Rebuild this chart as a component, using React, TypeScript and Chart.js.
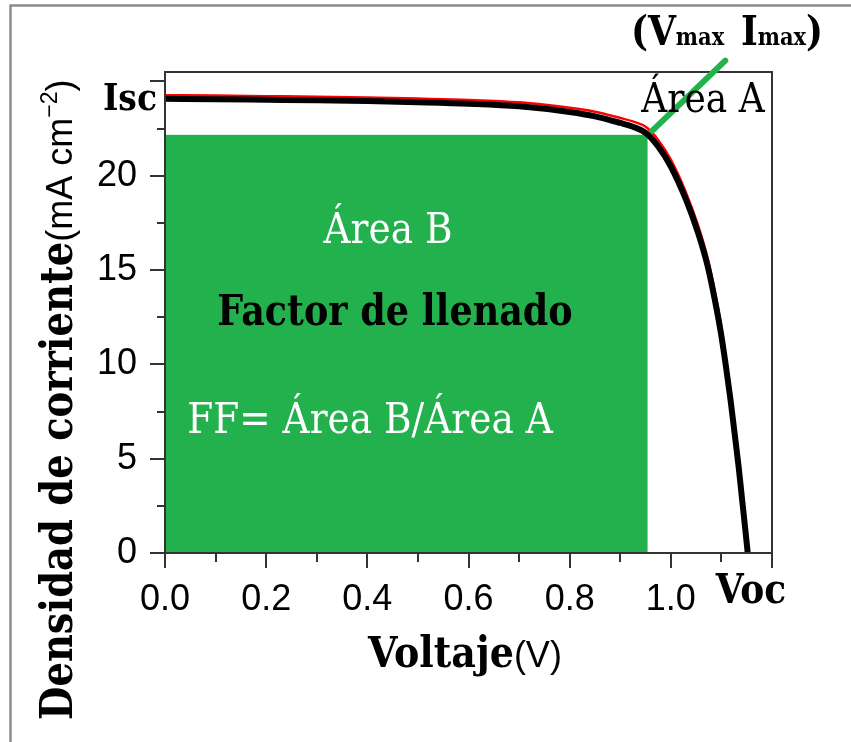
import React, { useEffect, useRef } from 'react';
import { Chart, registerables } from 'chart.js';

Chart.register(...registerables);

// ---- data ----
const voltage = [0, 0.1, 0.2, 0.3, 0.4, 0.5, 0.6, 0.7, 0.8, 0.85, 0.9, 0.925, 0.951, 0.975, 1.0, 1.03, 1.054, 1.073, 1.087, 1.099, 1.109, 1.118, 1.126, 1.134, 1.141, 1.148, 1.152];
const currentBlack = [24.08, 24.06, 24.03, 24.0, 23.96, 23.9, 23.82, 23.68, 23.38, 23.15, 22.8, 22.6, 22.26, 21.55, 20.49, 18.73, 16.96, 15.19, 13.42, 11.66, 9.88, 8.12, 6.35, 4.58, 2.81, 1.05, 0];
const currentRed = [24.27, 24.25, 24.22, 24.19, 24.15, 24.09, 24.02, 23.89, 23.6, 23.39, 23.06, 22.88, 22.58, 21.9, 20.85, 19.1, 17.35, 15.6, 13.85, 12.1, 10.3, 8.5, 6.7, 4.9, 3.1, 1.3, 0];
const maxPowerPoint = [0.954, 22.17]; // [Vmax, Imax]
const pointerLine = [[0.9635, 22.39], [1.1076, 26.1]];
const xMajorTicks = [0, 0.2, 0.4, 0.6, 0.8, 1.0, 1.2];
const xMinorTicks = [0.1, 0.3, 0.5, 0.7, 0.9, 1.1];
const yMajorTicks = [0, 5, 10, 15, 20, 25];
const yMinorTicks = [2.5, 7.5, 12.5, 17.5, 22.5];
const xHiddenLabels = [1.2];
const yHiddenLabels = [25];

const GREEN = '#22b14c';
const AXIS = '#333333';
const SERIF = '"DejaVu Serif", serif';
const SANS = '"Liberation Sans", Arial, sans-serif';

type Run = { text: string; font: string; color?: string; dy?: number; sy?: number };

function drawRuns(ctx: CanvasRenderingContext2D, runs: Run[], x: number, y: number, align: 'left' | 'center' | 'right', rotate = 0) {
  ctx.save();
  ctx.translate(x, y);
  if (rotate) ctx.rotate(rotate);
  const widths = runs.map((r) => {
    ctx.font = r.font;
    return ctx.measureText(r.text).width;
  });
  const total = widths.reduce((a, b) => a + b, 0);
  let cx = align === 'center' ? -total / 2 : align === 'right' ? -total : 0;
  ctx.textAlign = 'left';
  ctx.textBaseline = 'alphabetic';
  runs.forEach((r, i) => {
    ctx.save();
    ctx.font = r.font;
    ctx.fillStyle = r.color || '#000';
    ctx.translate(cx, r.dy || 0);
    ctx.scale(1, r.sy ?? 1.15);
    ctx.fillText(r.text, 0, 0);
    ctx.restore();
    cx += widths[i];
  });
  ctx.restore();
}

const decorPlugin = {
  id: 'decor',
  beforeDatasetsDraw(chart: any) {
    const { ctx, scales } = chart;
    const x = scales.x;
    const y = scales.y;
    const x0 = x.getPixelForValue(0);
    const x1 = x.getPixelForValue(maxPowerPoint[0]);
    const y0 = y.getPixelForValue(0);
    const y1 = y.getPixelForValue(maxPowerPoint[1]);
    ctx.save();
    ctx.fillStyle = GREEN;
    ctx.fillRect(x0, y1, x1 - x0, y0 - y1);
    ctx.restore();
  },
  afterDatasetsDraw(chart: any) {
    const { ctx, scales, chartArea } = chart;
    const x = scales.x;
    const y = scales.y;
    ctx.save();
    // plot box
    ctx.strokeStyle = AXIS;
    ctx.lineWidth = 2;
    ctx.strokeRect(chartArea.left, chartArea.top, chartArea.right - chartArea.left, chartArea.bottom - chartArea.top);
    // minor ticks
    ctx.beginPath();
    xMinorTicks.forEach((v) => {
      const px = Math.round(x.getPixelForValue(v));
      ctx.moveTo(px, chartArea.bottom);
      ctx.lineTo(px, chartArea.bottom + 9);
    });
    yMinorTicks.forEach((v) => {
      const py = Math.round(y.getPixelForValue(v));
      ctx.moveTo(chartArea.left, py);
      ctx.lineTo(chartArea.left - 8, py);
    });
    ctx.stroke();
    // pointer line
    ctx.strokeStyle = GREEN;
    ctx.lineWidth = 6;
    ctx.lineCap = 'round';
    ctx.beginPath();
    ctx.moveTo(x.getPixelForValue(pointerLine[0][0]), y.getPixelForValue(pointerLine[0][1]));
    ctx.lineTo(x.getPixelForValue(pointerLine[1][0]), y.getPixelForValue(pointerLine[1][1]));
    ctx.stroke();
    ctx.restore();

    // outer frame
    ctx.save();
    ctx.strokeStyle = '#8c8c8c';
    ctx.lineWidth = 2.5;
    ctx.beginPath();
    ctx.moveTo(10.5, 742);
    ctx.lineTo(10.5, 5.5);
    ctx.lineTo(851, 5.5);
    ctx.stroke();
    ctx.restore();

    const bold = (s: number) => `bold ${s}px ${SERIF}`;
    const reg = (s: number) => `${s}px ${SERIF}`;

    // annotations
    drawRuns(ctx, [
      { text: '(', font: bold(36) },
      { text: 'V', font: bold(36) },
      { text: 'max', font: bold(21) },
      { text: '  ', font: bold(24) },
      { text: 'I', font: bold(36) },
      { text: 'max', font: bold(21) },
      { text: ')', font: bold(36) },
    ], 727, 45, 'center');
    drawRuns(ctx, [{ text: 'Área A', font: reg(36) }], 703, 112, 'center');
    drawRuns(ctx, [{ text: 'Isc', font: bold(33) }], 157, 110, 'right');
    drawRuns(ctx, [{ text: 'Voc', font: bold(36) }], 751, 603, 'center');
    drawRuns(ctx, [{ text: 'Área B', font: reg(37.5), color: '#ffffff' }], 388, 243, 'center');
    drawRuns(ctx, [{ text: 'Factor de llenado', font: bold(36.5) }], 395, 325, 'center');
    drawRuns(ctx, [{ text: 'FF= Área B/Área A', font: reg(37.5), color: '#ffffff' }], 370, 433, 'center');

    // axis titles
    drawRuns(ctx, [
      { text: 'Voltaje', font: bold(38) },
      { text: '(V)', font: `36px ${SANS}`, sy: 1 },
    ], 368, 667, 'left');
    drawRuns(ctx, [
      { text: 'Densidad de corriente', font: bold(38.5) },
      { text: '(mA cm', font: `36px ${SANS}`, sy: 1 },
      { text: '−2', font: `23px ${SANS}`, sy: 1, dy: -15 },
      { text: ')', font: `36px ${SANS}`, sy: 1 },
    ], 72, 720, 'left', -Math.PI / 2);
  },
};

export default function App() {
  const ref = useRef<HTMLCanvasElement>(null);
  useEffect(() => {
    if (!ref.current) return;
    const chart = new Chart(ref.current, {
      type: 'scatter',
      data: {
        datasets: [
          {
            label: 'black',
            data: voltage.map((v, i) => ({ x: v, y: currentBlack[i] })),
            showLine: true,
            borderColor: '#000000',
            borderWidth: 6,
            pointRadius: 0,
            cubicInterpolationMode: 'monotone',
            fill: false,
          },
          {
            label: 'red',
            data: voltage.map((v, i) => ({ x: v, y: currentRed[i] })),
            showLine: true,
            borderColor: '#ff0000',
            borderWidth: 2.5,
            pointRadius: 0,
            cubicInterpolationMode: 'monotone',
            fill: false,
          },
        ],
      },
      options: {
        animation: false,
        responsive: false,
        devicePixelRatio: 1,
        layout: { padding: { left: 0, top: 72, right: 79, bottom: 0 } },
        plugins: { legend: { display: false }, tooltip: { enabled: false } },
        scales: {
          x: {
            type: 'linear',
            min: 0,
            max: 1.2,
            afterFit: (s: any) => { s.height = 742 - 553; },
            afterBuildTicks: (s: any) => { s.ticks = xMajorTicks.map((v) => ({ value: v })); },
            ticks: {
              includeBounds: false,
              autoSkip: false,
              maxRotation: 0,
              padding: 10,
              color: '#000',
              font: { family: SANS, size: 36 },
              callback: (v: any) => (xHiddenLabels.some((h) => Math.abs(h - Number(v)) < 1e-6) ? '' : Number(v).toFixed(1)),
            },
            grid: { drawOnChartArea: false, drawTicks: true, tickLength: 15, color: AXIS, lineWidth: 2 },
            border: { display: true, color: AXIS, width: 2 },
          },
          y: {
            type: 'linear',
            min: 0,
            max: 25.5,
            afterFit: (s: any) => { s.width = 165; },
            afterBuildTicks: (s: any) => { s.ticks = yMajorTicks.map((v) => ({ value: v })); },
            ticks: {
              includeBounds: false,
              autoSkip: false,
              padding: 13,
              color: '#000',
              font: { family: SANS, size: 36 },
              callback: (v: any) => (yHiddenLabels.includes(Number(v)) ? '' : String(v)),
            },
            grid: { drawOnChartArea: false, drawTicks: true, tickLength: 15, color: AXIS, lineWidth: 2 },
            border: { display: true, color: AXIS, width: 2 },
          },
        },
      },
      plugins: [decorPlugin],
    } as any);
    return () => chart.destroy();
  }, []);
  return (
    <div style={{ position: 'absolute', left: 0, top: 0, width: 851, height: 742, background: '#ffffff' }}>
      <canvas ref={ref} width={851} height={742} style={{ width: 851, height: 742, display: 'block' }} />
    </div>
  );
}
